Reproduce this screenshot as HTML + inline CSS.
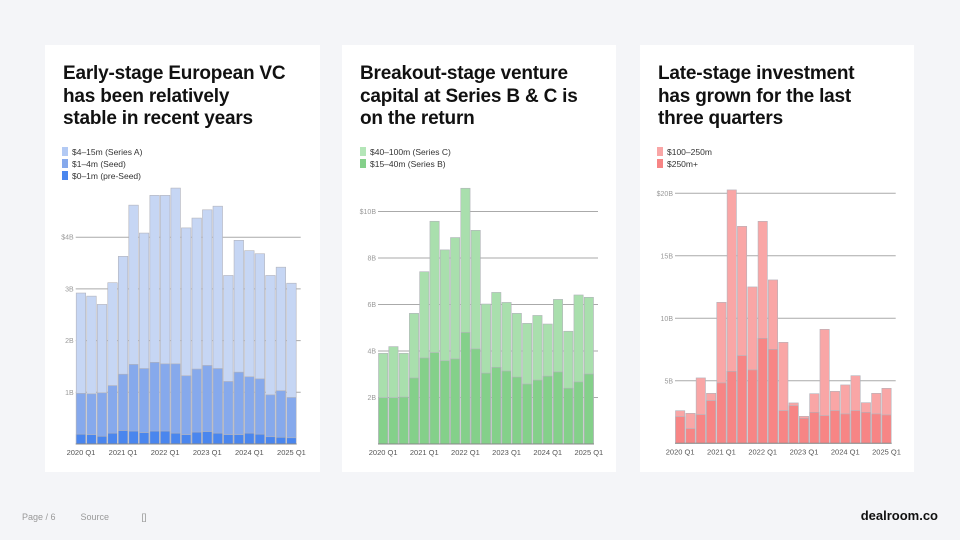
<!DOCTYPE html>
<html><head><meta charset="utf-8"><style>
body{margin:0;width:960px;height:540px;background:#f4f5f8;font-family:"Liberation Sans",sans-serif;position:relative;overflow:hidden}
.card{position:absolute;top:45px;height:427px;background:#fff}
.title{position:absolute;left:18px;top:18px;font-size:19px;font-weight:bold;line-height:22.5px;color:#111;letter-spacing:-0.2px}
svg{position:absolute;left:0;top:0}
.foot{position:absolute;font-size:9px;color:#333}
</style></head><body>
<div class="card" style="left:45px;width:275px"><div class="title">Early-stage European VC<br>has been relatively<br>stable in recent years</div></div>
<div class="card" style="left:342px;width:274px"><div class="title">Breakout-stage venture<br>capital at Series B &amp; C is<br>on the return</div></div>
<div class="card" style="left:640px;width:274px"><div class="title">Late-stage investment<br>has grown for the last<br>three quarters</div></div>
<svg id="chart" width="960" height="540"></svg>
<div class="foot" style="left:22px;top:512px;color:#999">Page / 6 &nbsp;&nbsp;&nbsp;&nbsp;&nbsp;&nbsp;&nbsp;&nbsp; Source &nbsp;&nbsp;&nbsp;&nbsp;&nbsp;&nbsp;&nbsp;&nbsp;&nbsp;&nbsp;&nbsp; []</div>
<div class="foot" style="right:22px;top:508px;font-size:13px;font-weight:bold;color:#111">dealroom.co</div>
<script>
const quarters=["2020 Q1","","","","2021 Q1","","","","2022 Q1","","","","2023 Q1","","","","2024 Q1","","","","2025 Q1"];
const earlyTotal=[2.92,2.86,2.70,3.12,3.63,4.62,4.08,4.81,4.81,4.95,4.18,4.37,4.53,4.60,3.26,3.94,3.74,3.68,3.26,3.42,3.11];
const earlySeedCum=[0.98,0.97,0.99,1.13,1.35,1.54,1.46,1.58,1.55,1.55,1.32,1.45,1.52,1.46,1.21,1.39,1.30,1.26,0.95,1.03,0.90];
const earlyPreSeed=[0.19,0.18,0.15,0.21,0.26,0.25,0.22,0.25,0.25,0.21,0.18,0.23,0.24,0.21,0.18,0.18,0.21,0.19,0.14,0.13,0.12];
const earlyTicks=[1,2,3,4];const earlyTickLabels=["1B","2B","3B","$4B"];
const breakTotal=[3.90,4.19,3.90,5.62,7.41,9.58,8.35,8.88,11.0,9.19,6.02,6.52,6.09,5.62,5.19,5.53,5.16,6.22,4.85,6.41,6.31];
const breakB=[1.99,1.99,2.02,2.84,3.70,3.93,3.58,3.66,4.80,4.09,3.05,3.30,3.14,2.88,2.58,2.75,2.92,3.10,2.40,2.67,3.01];
const breakTicks=[2,4,6,8,10];const breakTickLabels=["2B","4B","6B","8B","$10B"];
const lateTotal=[2.61,2.40,5.23,4.0,11.28,20.27,17.36,12.51,17.76,13.07,8.08,3.23,2.16,3.97,9.12,4.16,4.67,5.41,3.25,4.0,4.4];
const late250=[2.13,1.17,2.29,3.41,4.83,5.76,7.01,5.87,8.40,7.52,2.61,3.01,2.0,2.48,2.21,2.61,2.35,2.61,2.48,2.35,2.27];
const lateTicks=[5,10,15,20];const lateTickLabels=["5B","10B","15B","$20B"];
const svg=document.getElementById('chart');const NS='http://www.w3.org/2000/svg';
function el(t,a,txt){const e=document.createElementNS(NS,t);for(const k in a)e.setAttribute(k,a[k]);if(txt!=null)e.textContent=txt;svg.appendChild(e);return e;}
function chart(cfg){
 const x=i=>cfg.x0+i*(cfg.x1-cfg.x0)/quarters.length;const bw=(cfg.x1-cfg.x0)/quarters.length;
 const y=v=>cfg.base-v*cfg.ppu;
 cfg.ticks.forEach((t,i)=>{const l=el('line',{x1:cfg.x0,x2:cfg.x1+4,y1:y(t),y2:y(t),stroke:'#aaa','stroke-width':1});
 
 const tx=el('text',{x:cfg.x0-2,y:y(t)+2.5,'font-size':7,fill:'#999','text-anchor':'end'},cfg.labels[i]);
 });
 cfg.layers.forEach(L=>{L.vals.forEach((v,i)=>{const r=el('rect',{x:x(i)+0.5,y:y(v),width:bw-1,height:v*cfg.ppu,fill:L.color,stroke:'#b3b3bb','stroke-width':0.6});
 });});
 const b=el('line',{x1:cfg.x0,x2:cfg.x1,y1:cfg.base,y2:cfg.base,stroke:'#888','stroke-width':1});
 
 quarters.forEach((q,i)=>{if(!q)return;const t=el('text',{x:x(i)+bw/2,y:cfg.base+11,'font-size':7.5,fill:'#555','text-anchor':'middle'},q);
 });
 cfg.legend.forEach((g,i)=>{const r=el('rect',{x:cfg.lx,y:147+i*12,width:6,height:9,fill:g[1]});
 
 const t=el('text',{x:cfg.lx+10,y:155+i*12,'font-size':8.5,fill:'#333'},g[0]);
 });
}
chart({x0:75.7,x1:296.7,base:444,ppu:51.7,ticks:earlyTicks,labels:earlyTickLabels,lx:62,
 layers:[{name:'series-a',vals:earlyTotal,color:'#c6d6f4'},{name:'seed',vals:earlySeedCum,color:'#86a9ec'},{name:'pre-seed',vals:earlyPreSeed,color:'#4a86ee'}],
 legend:[["$4–15m (Series A)","#b3caf4"],["$1–4m (Seed)","#86a9ec"],["$0–1m (pre-Seed)","#4a86ee"]]});
chart({x0:378,x1:594,base:444,ppu:23.25,ticks:breakTicks,labels:breakTickLabels,lx:360,
 layers:[{name:'series-c',vals:breakTotal,color:'#a9dfad'},{name:'series-b',vals:breakB,color:'#84d08a'}],
 legend:[["$40–100m (Series C)","#b4e6b8"],["$15–40m (Series B)","#84d08a"]]});
chart({x0:675,x1:891.7,base:443.3,ppu:12.5,ticks:lateTicks,labels:lateTickLabels,lx:657,
 layers:[{name:'100-250m',vals:lateTotal,color:'#f9a6a6'},{name:'250m-plus',vals:late250,color:'#f78585'}],
 legend:[["$100–250m","#f9a6a6"],["$250m+","#f78585"]]});
</script>
</body></html>
